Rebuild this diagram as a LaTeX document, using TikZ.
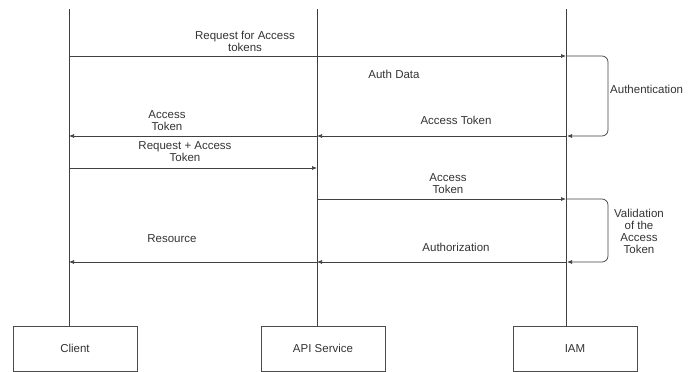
\documentclass[tikz,border=0pt]{standalone}
\usepackage{fontspec}
\setmainfont{Liberation Sans}
\usetikzlibrary{arrows.meta, positioning}

\begin{document}
\begin{tikzpicture}[
    x=1pt, y=-1pt,
    every node/.style={font=\fontsize{11.5}{12}\selectfont, text=black!80},
    boxnode/.style={
        rectangle,
        draw=black!70,
        line width=0.7pt,
        minimum width=124pt,
        minimum height=45pt,
        align=center
    },
    labelnode/.style={
        align=center,
        inner sep=0pt
    },
    lifeline/.style={line width=0.8pt, draw=black!75},
    msg/.style={-{Latex[length=5pt, width=4pt]}, line width=0.7pt, draw=black!75},
    selfmsg/.style={msg, rounded corners=6pt}
]

\useasboundingbox (0,0) rectangle (699,372);

% participants
\node[boxnode] (client) at (75,348.5) {Client};
\node[boxnode] (api) at (323,348.5) {API Service};
\node[boxnode] (iam) at (575,348.5) {IAM};

\coordinate (clienttop) at (69,9);
\coordinate (apitop) at (317,9);
\coordinate (iamtop) at (566,9);

\draw[lifeline] (clienttop) -- (clienttop |- client.north);
\draw[lifeline] (apitop) -- (apitop |- api.north);
\draw[lifeline] (iamtop) -- (iamtop |- iam.north);

% message rows
\coordinate (m1) at (0,56);
\coordinate (m2) at (0,136);
\coordinate (m3) at (0,168);
\coordinate (m4) at (0,199);
\coordinate (m5) at (0,262);
\coordinate (loopright) at (608,0);

% messages
\draw[msg] (clienttop |- m1) -- (iamtop |- m1);
\draw[selfmsg] (iamtop |- m1) -- (loopright |- m1) -- (loopright |- m2)
    -- ([xshift=1pt]iamtop |- m2);
\draw[msg] (iamtop |- m2) -- (apitop |- m2);
\draw[msg] (apitop |- m2) -- (clienttop |- m2);
\draw[msg] (clienttop |- m3) -- (apitop |- m3);
\draw[msg] (apitop |- m4) -- (iamtop |- m4);
\draw[selfmsg] (iamtop |- m4) -- (loopright |- m4) -- (loopright |- m5)
    -- ([xshift=1pt]iamtop |- m5);
\draw[msg] (iamtop |- m5) -- (apitop |- m5);
\draw[msg] (apitop |- m5) -- (clienttop |- m5);

% labels
\node[labelnode] (reqtokens) at (245,41) {Request for Access\\tokens};
\node[labelnode] (authdata) at (394,74) {Auth Data};
\node[labelnode, anchor=west] (authn) at (610,89) {Authentication};
\node[labelnode] (tokeniam) at (456,120) {Access Token};
\node[labelnode] (tokenapi) at (167,121) {Access\\Token};
\node[labelnode] (reqaccess) at (185,152) {Request + Access\\Token};
\node[labelnode] (tokenval) at (448,184) {Access\\Token};
\node[labelnode] (validation) at (639,231) {Validation\\of the\\Access\\Token};
\node[labelnode] (authz) at (456,247) {Authorization};
\node[labelnode] (resource) at (172,239) {Resource};

\end{tikzpicture}
\end{document}
